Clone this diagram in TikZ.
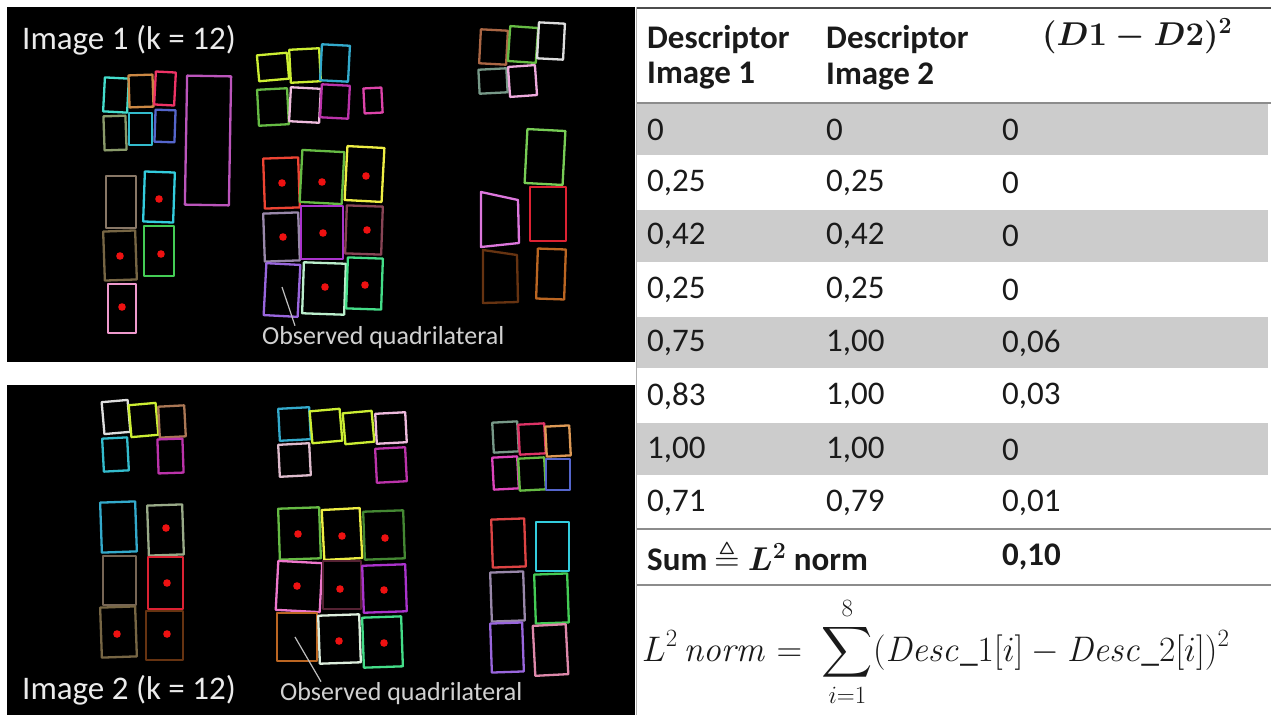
\RequirePackage{fix-cm}
\documentclass[tikz,border=0pt]{standalone}
\usepackage{amsmath,amssymb}
\usepackage[no-math]{fontspec}
\setmainfont{Carlito}
\definecolor{dotred}{HTML}{EE1111}
\definecolor{txt}{HTML}{1A1A1A}
\definecolor{rowgrey}{HTML}{CCCCCC}
\definecolor{lineg}{HTML}{8C8C8C}
\definecolor{qcyan}{HTML}{44DDCC}
\definecolor{qtan}{HTML}{CC8844}
\definecolor{qcrimson}{HTML}{EE3366}
\definecolor{qsage}{HTML}{8A9A6A}
\definecolor{qteal}{HTML}{33BBCC}
\definecolor{qblue}{HTML}{5566CC}
\definecolor{qviolet}{HTML}{BB55BB}
\definecolor{qlime}{HTML}{CCEE33}
\definecolor{qcyanb}{HTML}{33AACC}
\definecolor{qgreen}{HTML}{66BB44}
\definecolor{qpinkw}{HTML}{EEBBDD}
\definecolor{qmag}{HTML}{BB33AA}
\definecolor{qpink}{HTML}{DD44AA}
\definecolor{qbrown}{HTML}{AA6644}
\definecolor{qwhite}{HTML}{DDDDDD}
\definecolor{qgreyg}{HTML}{779988}
\definecolor{qpinkl}{HTML}{EEAADD}
\definecolor{qlgreen}{HTML}{77CC55}
\definecolor{qred}{HTML}{DD2233}
\definecolor{qpinkv}{HTML}{DD77DD}
\definecolor{qdbrown}{HTML}{663311}
\definecolor{qorbr}{HTML}{BB6622}
\definecolor{qredb}{HTML}{EE4433}
\definecolor{qyellow}{HTML}{EEEE44}
\definecolor{qlav}{HTML}{9988AA}
\definecolor{qpurple}{HTML}{AA33CC}
\definecolor{qmauve}{HTML}{884455}
\definecolor{qvioletb}{HTML}{9966DD}
\definecolor{qmint}{HTML}{BBEECC}
\definecolor{qsea}{HTML}{44DD88}
\definecolor{qtaupe}{HTML}{887766}
\definecolor{qcyanc}{HTML}{33CCDD}
\definecolor{qolive}{HTML}{776644}
\definecolor{qgreenb}{HTML}{44CC55}
\definecolor{qpinkb}{HTML}{EE99CC}
\definecolor{qbrownb}{HTML}{AA7755}
\definecolor{qsageb}{HTML}{99AA88}
\definecolor{qtaupeb}{HTML}{776655}
\definecolor{qpinkg}{HTML}{DDBBCC}
\definecolor{qdgreen}{HTML}{448833}
\definecolor{qpinkc}{HTML}{EE77CC}
\definecolor{qmaroon}{HTML}{552233}
\definecolor{qwhiteb}{HTML}{DDEEDD}
\definecolor{qpinkred}{HTML}{DD3366}
\definecolor{qorange}{HTML}{DD9955}
\definecolor{qmagb}{HTML}{DD44BB}
\definecolor{qredc}{HTML}{DD4444}
\definecolor{qpinkd}{HTML}{DD88AA}
\newcommand\qd[6][0]{\draw[quad,draw=#2,rotate around={#1:({(#3+#5)/2},{(#4+#6)/2})}] (#3,#4) rectangle (#5,#6);}
\newcommand\rdot[2]{\fill[dotred] (#1,#2) circle[radius=3.8pt];}
\newcommand\dhead{$\boldsymbol{(D1-D2)^2}$}
\newcommand\lsq{$\boldsymbol{L^2}$}
\begin{document}
\begin{tikzpicture}[x=1pt,y=-1pt,
  quad/.style={line width=2.3pt,line join=round},
  panel/.style={fill=black},
  lbl/.style={text=white!92!black,font=\fontsize{33}{39}\selectfont,inner sep=0,anchor=west},
  obs/.style={text=white!82!black,font=\fontsize{26}{31}\selectfont,inner sep=0,anchor=west},
  annot/.style={draw=white!75!black,line width=1.2pt},
  cell/.style={text=txt,font=\fontsize{33}{39}\selectfont,inner sep=0,anchor=west},
  hcell/.style={text=txt,font=\fontsize{33}{39}\selectfont\bfseries,inner sep=0,anchor=west},
  rule/.style={draw=lineg,line width=2pt}]
\useasboundingbox (0,0) rectangle (1271,715);
\fill[white] (0,0) rectangle (1271,715);
% ---------- left panels ----------
\fill[panel] (7,7) rectangle (635,362);
\fill[panel] (7,385) rectangle (635,715);
\node[lbl] (lab1) at (22,40) {Image 1 (k = 12)};
\node[lbl] (lab2) at (22,690) {Image 2 (k = 12)};
% ---- Image 1 ----
\qd[-3]{qcyan}{104}{78}{128}{112}
\qd[2]{qtan}{129}{75}{153}{107}
\qd[-3]{qcrimson}{155}{72}{175}{105}
\qd[2]{qsage}{104}{116}{126}{150}
\qd{qteal}{129}{113}{152}{145}
\qd[-2]{qblue}{155}{110}{175}{142}
\qd[-1]{qviolet}{186}{76}{230}{205}
\qd[5]{qlime}{258}{54}{288}{80}
\qd[3]{qlime}{290}{49}{320}{82}
\qd[-3]{qcyanb}{321}{45}{349}{81}
\qd[3]{qgreen}{258}{89}{288}{125}
\qd[-3]{qpinkw}{290}{88}{320}{122}
\qd[-3]{qmag}{321}{85}{349}{118}
\qd[3]{qpink}{364}{88}{382}{113}
\qd[-3]{qbrown}{480}{30}{507}{64}
\qd[-4]{qgreen}{509}{27}{537}{62}
\qd[-3]{qwhite}{538}{23}{564}{59}
\qd[3]{qgreyg}{479}{69}{507}{93}
\qd[4]{qpinkl}{509}{66}{536}{96}
\qd[-3]{qlgreen}{526}{130}{564}{184}
\qd{qred}{530}{187}{566}{241}
\draw[quad,draw=qpinkv] (481,192) -- (518,200) -- (519,243) -- (481,247) -- cycle;
\draw[quad,draw=qdbrown] (483,250) -- (517,255) -- (518,302) -- (483,303) -- cycle;
\qd[-2]{qorbr}{537}{249}{565}{299}
\qd[2]{qredb}{264}{158}{299}{208} \rdot{282}{183}
\qd[-3]{qgreen}{301}{151}{343}{203} \rdot{322}{182}
\qd[-3]{qyellow}{346}{147}{383}{201} \rdot{366}{176}
\qd[2]{qlav}{264}{213}{299}{261} \rdot{283}{237}
\qd{qpurple}{301}{206}{343}{259} \rdot{323}{233}
\qd[-2]{qmauve}{346}{206}{382}{254} \rdot{367}{230}
\qd[-3]{qvioletb}{265}{264}{299}{316}
\qd[-2]{qmint}{303}{263}{345}{314} \rdot{325}{287}
\qd[-2]{qsea}{347}{258}{382}{309} \rdot{365}{285}
\qd{qtaupe}{106}{176}{136}{228}
\qd[-2]{qcyanc}{144}{172}{174}{222} \rdot{159}{199}
\qd[2]{qolive}{104}{231}{136}{280} \rdot{120}{256}
\qd{qgreenb}{144}{226}{174}{276} \rdot{161}{254}
\qd{qpinkb}{108}{284}{136}{333} \rdot{122}{307}
\coordinate (q1) at (282,287);
\node[obs] (obs1) at (262,338) {Observed quadrilateral};
\draw[annot] (q1) -- ([xshift=33pt,yshift=1pt]obs1.north west);
% ---- Image 2 ----
\qd[5]{qwhite}{103}{401}{129}{433}
\qd[5]{qlime}{130}{404}{157}{436}
\qd[3]{qbrownb}{159}{406}{185}{437}
\qd[3]{qteal}{103}{438}{128}{471}
\qd[2]{qmag}{158}{439}{183}{473}
\qd[2]{qcyanb}{101}{502}{136}{552}
\qd[2]{qsageb}{148}{505}{183}{555} \rdot{166}{528}
\qd{qtaupeb}{103}{556}{136}{605}
\qd{qred}{148}{557}{183}{609} \rdot{167}{583}
\qd[2]{qolive}{101}{607}{136}{657} \rdot{117}{634}
\qd{qdbrown}{146}{611}{183}{660} \rdot{167}{634}
\qd[3]{qcyanb}{279}{408}{310}{440}
\qd[5]{qlime}{311}{410}{341}{442}
\qd[5]{qlime}{344}{412}{373}{443}
\qd[3]{qpinkw}{376}{413}{406}{443}
\qd[3]{qpinkg}{279}{444}{310}{476}
\qd[3]{qmag}{376}{448}{406}{482}
\qd[2]{qgreen}{279}{508}{320}{559} \rdot{298}{534}
\qd[3]{qyellow}{323}{509}{361}{559} \rdot{342}{536}
\qd[2]{qdgreen}{364}{511}{404}{559} \rdot{385}{538}
\qd[-3]{qpinkc}{277}{562}{321}{611} \rdot{297}{586}
\qd{qmaroon}{323}{561}{361}{609} \rdot{340}{589}
\qd[2]{qpurple}{363}{565}{406}{612} \rdot{384}{590}
\qd{qorbr}{277}{613}{317}{661}
\qd[2]{qwhiteb}{319}{615}{360}{663} \rdot{339}{641}
\qd[2]{qsea}{363}{617}{402}{667} \rdot{384}{643}
\qd[3]{qgreyg}{493}{422}{518}{452}
\qd[3]{qpinkred}{519}{424}{545}{454}
\qd[3]{qorange}{546}{426}{570}{456}
\qd[3]{qmagb}{493}{457}{518}{489}
\qd[3]{qgreen}{519}{458}{545}{490}
\qd{qblue}{546}{459}{570}{490}
\qd[2]{qredc}{492}{519}{525}{567}
\qd{qcyanc}{536}{522}{569}{571}
\qd[2]{qlav}{491}{572}{524}{621}
\qd[2]{qgreenb}{535}{574}{568}{623}
\qd[2]{qvioletb}{491}{623}{523}{672}
\qd[3]{qpinkd}{534}{625}{567}{675}
\coordinate (q2) at (295,637);
\node[obs] (obs2) at (280,694) {Observed quadrilateral};
\draw[annot] (q2) -- ([xshift=41pt,yshift=1pt]obs2.north west);
% ---------- table ----------
\foreach \i in {0,2,4,6} {
  \fill[rowgrey] (637,{103+53.375*\i}) rectangle (1268,{103+53.375*(\i+1)-1.5});
}
\draw[draw=lineg!70,line width=1pt] (636.5,7) -- (636.5,715);
\draw[draw=black!70,line width=2.5pt] (637,8) -- (1271,8);
\draw[rule] (637,103) -- (1271,103);
\draw[rule] (637,529) -- (1271,529);
\draw[rule] (637,585) -- (1271,585);
\node[hcell] (h1a) at (647,40) {Descriptor};
\node[hcell] (h1b) at (647,76) {Image 1};
\node[hcell] (h2a) at (826,40) {Descriptor};
\node[hcell] (h2b) at (826,76) {Image 2};
\node[cell] (h3) at (1042,36) {\dhead};
\foreach \a/\b/\c [count=\k from 0] in {0/0/0, {0,25}/{0,25}/0, {0,42}/{0,42}/0, {0,25}/{0,25}/0, {0,75}/{1,00}/{0,06}, {0,83}/{1,00}/{0,03}, {1,00}/{1,00}/0, {0,71}/{0,79}/{0,01}} {
  \node[cell] (r\k a) at (647,{129.5+53.375*\k}) {\a};
  \node[cell] (r\k b) at (826,{129.5+53.375*\k}) {\b};
  \node[cell] (r\k c) at (1002,{129.5+53.375*\k}) {\c};
}
\node[hcell] (sumlbl) at (647,557) {Sum $\triangleq$ \lsq{} norm};
\node[hcell] (sumval) at (1002,557) {0,10};
\node[cell,font=\fontsize{35.5}{42}\selectfont] (formula) at (642,652) {$\displaystyle L^2\,\mathit{norm} = \;\sum_{i=1}^{8}(\mathit{Desc\_}1[i]-\mathit{Desc\_}2[i])^2$};
\end{tikzpicture}
\end{document}
